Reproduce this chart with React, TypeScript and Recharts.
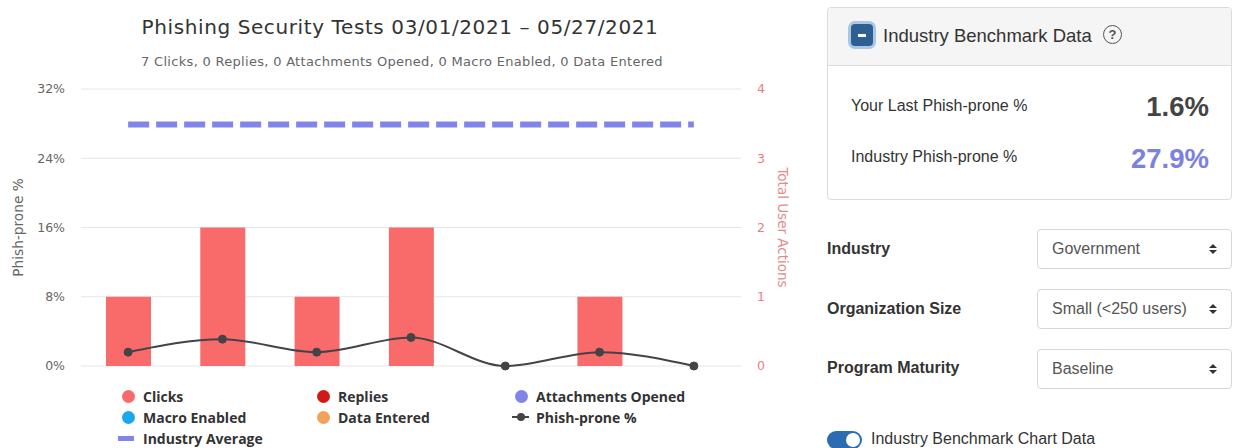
import React from "react";
import {
  ComposedChart,
  Bar,
  Line,
  XAxis,
  YAxis,
  CartesianGrid,
  Legend,
} from "recharts";

// Campaign slots in the reporting window
const categories = ["Test 1", "Test 2", "Test 3", "Test 4", "Test 5", "Test 6", "Test 7"];

// User actions per campaign (right axis)
const clicks = [1, 2, 1, 2, 0, 1, 0];
const replies = [0, 0, 0, 0, 0, 0, 0];
const attachmentsOpened = [0, 0, 0, 0, 0, 0, 0];
const macroEnabled = [0, 0, 0, 0, 0, 0, 0];
const dataEntered = [0, 0, 0, 0, 0, 0, 0];

// Phish-prone percentage per campaign (left axis)
const phishProne = [1.6, 3.1, 1.6, 3.3, 0, 1.6, 0];
// Industry benchmark percentage
const industryAverage = [27.9, 27.9, 27.9, 27.9, 27.9, 27.9, 27.9];

const leftTicks = [0, 8, 16, 24, 32];
const rightTicks = [0, 1, 2, 3, 4];

const legendOrder = [
  "Clicks",
  "Replies",
  "Attachments Opened",
  "Macro Enabled",
  "Data Entered",
  "Phish-prone %",
  "Industry Average",
];

const data = categories.map((name, i) => ({
  name,
  clicks: clicks[i],
  replies: replies[i],
  attachments: attachmentsOpened[i],
  macro: macroEnabled[i],
  entered: dataEntered[i],
  phish: phishProne[i],
  industry: industryAverage[i],
}));

const CHART_FONT = "'DejaVu Sans', sans-serif";
const UI_FONT = "'Liberation Sans', Arial, sans-serif";

function LegendSymbol({ type, color }: { type: string; color: string }) {
  if (type === "line") {
    return (
      <span style={{ position: "relative", display: "inline-block", width: 24, height: 14 }}>
        <span style={{ position: "absolute", left: 0, top: 6, width: 17, height: 2, background: color }} />
        <span
          style={{
            position: "absolute",
            left: 4.5,
            top: 3,
            width: 8,
            height: 8,
            borderRadius: 4,
            background: color,
          }}
        />
      </span>
    );
  }
  if (type === "rect") {
    return (
      <span style={{ position: "relative", display: "inline-block", width: 24, height: 14 }}>
        <span style={{ position: "absolute", left: -1, top: 5, width: 16, height: 5, background: color }} />
      </span>
    );
  }
  return (
    <span style={{ position: "relative", display: "inline-block", width: 24, height: 14 }}>
      <span
        style={{
          position: "absolute",
          left: 2.5,
          top: 0.5,
          width: 13,
          height: 13,
          borderRadius: 7,
          background: color,
        }}
      />
    </span>
  );
}

function LegendContent(props: any) {
  const payload: any[] = props.payload || [];
  const items = legendOrder
    .map((n) => payload.find((p) => p.value === n))
    .filter(Boolean);
  return (
    <div
      style={{
        width: 810,
        height: 82,
        boxSizing: "border-box",
        paddingTop: 19.5,
        paddingLeft: 119,
        display: "grid",
        gridTemplateColumns: "195px 198px 240px",
        gridAutoRows: "21px",
        fontFamily: "'Open Sans', sans-serif",
        fontWeight: 700,
        fontSize: 14,
        color: "#333",
        textAlign: "left",
      }}
    >
      {items.map((item: any) => (
        <div key={item.value} style={{ display: "flex", alignItems: "center", whiteSpace: "nowrap" }}>
          <LegendSymbol type={item.type} color={item.color} />
          <span>{item.value}</span>
        </div>
      ))}
    </div>
  );
}

function SelectBox({ top, value }: { top: number; value: string }) {
  return (
    <div
      style={{
        position: "absolute",
        left: 1037,
        top,
        width: 195,
        height: 40,
        boxSizing: "border-box",
        border: "1px solid #d6d6d6",
        borderRadius: 4,
        background: "#fff",
        fontSize: 16,
        color: "#555",
        lineHeight: "38px",
        paddingLeft: 14,
      }}
    >
      {value}
      <span style={{ position: "absolute", right: 14, top: 14, width: 8, height: 11 }}>
        <span
          style={{
            position: "absolute",
            left: 0,
            top: 0,
            width: 0,
            height: 0,
            borderLeft: "4px solid transparent",
            borderRight: "4px solid transparent",
            borderBottom: "4px solid #333",
          }}
        />
        <span
          style={{
            position: "absolute",
            left: 0,
            top: 6,
            width: 0,
            height: 0,
            borderLeft: "4px solid transparent",
            borderRight: "4px solid transparent",
            borderTop: "4px solid #333",
          }}
        />
      </span>
    </div>
  );
}

function FieldLabel({ top, text }: { top: number; text: string }) {
  return (
    <div
      style={{
        position: "absolute",
        left: 827,
        top,
        height: 20,
        lineHeight: "20px",
        fontSize: 16,
        fontWeight: 700,
        color: "#333",
        whiteSpace: "nowrap",
      }}
    >
      {text}
    </div>
  );
}

export default function App() {
  return (
    <div
      style={{
        position: "absolute",
        left: 0,
        top: 0,
        width: 1233,
        height: 448,
        overflow: "hidden",
        background: "#fff",
        fontFamily: UI_FONT,
      }}
    >
      {/* Chart heading */}
      <div
        style={{
          position: "absolute",
          left: 0,
          top: 15,
          width: 800,
          textAlign: "center",
          fontFamily: CHART_FONT,
          fontSize: 20,
          letterSpacing: 0.6,
          lineHeight: "24px",
          color: "#333",
          whiteSpace: "nowrap",
        }}
      >
        Phishing Security Tests 03/01/2021 – 05/27/2021
      </div>
      <div
        style={{
          position: "absolute",
          left: 0,
          top: 54,
          width: 804,
          textAlign: "center",
          fontFamily: CHART_FONT,
          fontSize: 13,
          letterSpacing: 0.3,
          lineHeight: "15px",
          color: "#666",
          whiteSpace: "nowrap",
        }}
      >
        7 Clicks, 0 Replies, 0 Attachments Opened, 0 Macro Enabled, 0 Data Entered
      </div>

      <div style={{ position: "absolute", left: 0, top: 0 }}>
        <ComposedChart
          width={810}
          height={448}
          data={data}
          margin={{ top: 89, right: 0, bottom: 0, left: 0 }}
          barSize={45}
        >
          <CartesianGrid yAxisId="left" vertical={false} stroke="#e6e6e6" />
          <XAxis
            dataKey="name"
            height={0}
            tick={false}
            tickLine={false}
            axisLine={{ stroke: "#d3d3dc" }}
          />
          <YAxis
            yAxisId="left"
            orientation="left"
            width={81}
            domain={[0, 32]}
            ticks={leftTicks}
            tickFormatter={(v: number) => `${v}%`}
            axisLine={false}
            tickLine={false}
            tickSize={0}
            tickMargin={16}
            tick={{ fill: "#666", fontSize: 12.5, fontFamily: CHART_FONT }}
            label={{
              value: "Phish-prone %",
              angle: -90,
              position: "insideLeft",
              offset: 18,
              fill: "#666",
              fontSize: 13.7,
              fontFamily: CHART_FONT,
              style: { textAnchor: "middle" },
            }}
          />
          <YAxis
            yAxisId="right"
            orientation="right"
            width={69}
            domain={[0, 4]}
            ticks={rightTicks}
            axisLine={false}
            tickLine={false}
            tickSize={0}
            tickMargin={16}
            tick={{ fill: "#e67f7f", fontSize: 12.5, fontFamily: CHART_FONT }}
            label={{
              value: "Total User Actions",
              angle: 90,
              position: "insideRight",
              offset: 27,
              fill: "#e48a8a",
              fontSize: 13.5,
              fontFamily: CHART_FONT,
              style: { textAnchor: "middle" },
            }}
          />
          <Bar yAxisId="right" dataKey="clicks" name="Clicks" stackId="actions" fill="#f96b6b" legendType="circle" isAnimationActive={false} />
          <Bar yAxisId="right" dataKey="replies" name="Replies" stackId="actions" fill="#d01a1a" legendType="circle" isAnimationActive={false} />
          <Bar yAxisId="right" dataKey="attachments" name="Attachments Opened" stackId="actions" fill="#8085e9" legendType="circle" isAnimationActive={false} />
          <Bar yAxisId="right" dataKey="macro" name="Macro Enabled" stackId="actions" fill="#1aa7ee" legendType="circle" isAnimationActive={false} />
          <Bar yAxisId="right" dataKey="entered" name="Data Entered" stackId="actions" fill="#f2a25a" legendType="circle" isAnimationActive={false} />
          <Line
            yAxisId="left"
            type="linear"
            dataKey="industry"
            name="Industry Average"
            stroke="#8085e9"
            strokeWidth={6}
            strokeDasharray="21 7"
            dot={false}
            activeDot={false}
            legendType="rect"
            isAnimationActive={false}
          />
          <Line
            yAxisId="left"
            type="monotone"
            dataKey="phish"
            name="Phish-prone %"
            stroke="#434348"
            strokeWidth={2}
            dot={{ r: 4, fill: "#434348", stroke: "#434348", strokeWidth: 1 }}
            activeDot={false}
            legendType="line"
            isAnimationActive={false}
          />
          <Legend
            verticalAlign="bottom"
            align="left"
            width={810}
            wrapperStyle={{ left: 0 }}
            content={<LegendContent />}
          />
        </ComposedChart>
      </div>

      {/* Benchmark card */}
      <div
        style={{
          position: "absolute",
          left: 827,
          top: 7,
          width: 405,
          height: 193,
          boxSizing: "border-box",
          border: "1px solid #dcdcdc",
          borderRadius: 4,
          background: "#fff",
          overflow: "hidden",
        }}
      >
        <div
          style={{
            position: "absolute",
            left: 0,
            top: 0,
            right: 0,
            height: 57,
            background: "#f5f5f5",
            borderBottom: "1px solid #dcdcdc",
          }}
        >
          <div
            style={{
              position: "absolute",
              left: 23,
              top: 16,
              width: 22,
              height: 22,
              borderRadius: 4,
              background: "#2d5f93",
              boxShadow: "0 0 0 3px rgba(110,160,215,0.55)",
            }}
          >
            <div style={{ position: "absolute", left: 7, top: 9.5, width: 8, height: 3, background: "#fff" }} />
          </div>
          <div
            style={{
              position: "absolute",
              left: 55,
              top: 16,
              height: 24,
              lineHeight: "24px",
              fontSize: 18.5,
              color: "#333",
              whiteSpace: "nowrap",
            }}
          >
            Industry Benchmark Data
          </div>
          <div
            style={{
              position: "absolute",
              left: 275,
              top: 17,
              width: 17,
              height: 17,
              borderRadius: 10,
              border: "1.5px solid #555",
              textAlign: "center",
              lineHeight: "17px",
              fontSize: 13,
              fontWeight: 700,
              color: "#555",
            }}
          >
            ?
          </div>
        </div>
        <div
          style={{
            position: "absolute",
            left: 23,
            top: 88,
            height: 20,
            lineHeight: "20px",
            fontSize: 16,
            color: "#333",
            whiteSpace: "nowrap",
          }}
        >
          Your Last Phish-prone %
        </div>
        <div
          style={{
            position: "absolute",
            right: 22,
            top: 83,
            height: 32,
            lineHeight: "32px",
            fontSize: 27.5,
            fontWeight: 700,
            color: "#444",
          }}
        >
          1.6%
        </div>
        <div
          style={{
            position: "absolute",
            left: 23,
            top: 139,
            height: 20,
            lineHeight: "20px",
            fontSize: 16,
            color: "#333",
            whiteSpace: "nowrap",
          }}
        >
          Industry Phish-prone %
        </div>
        <div
          style={{
            position: "absolute",
            right: 22,
            top: 135,
            height: 32,
            lineHeight: "32px",
            fontSize: 27.5,
            fontWeight: 700,
            color: "#7b82de",
          }}
        >
          27.9%
        </div>
      </div>

      <FieldLabel top={239} text="Industry" />
      <SelectBox top={229} value="Government" />
      <FieldLabel top={299} text="Organization Size" />
      <SelectBox top={289} value="Small (<250 users)" />
      <FieldLabel top={358} text="Program Maturity" />
      <SelectBox top={349} value="Baseline" />

      {/* Chart benchmark toggle */}
      <div
        style={{
          position: "absolute",
          left: 827,
          top: 431,
          width: 35,
          height: 18,
          borderRadius: 9,
          background: "#2c6db1",
        }}
      >
        <div
          style={{
            position: "absolute",
            right: 2,
            top: 2,
            width: 14,
            height: 14,
            borderRadius: 7,
            background: "#fff",
          }}
        />
      </div>
      <div
        style={{
          position: "absolute",
          left: 871,
          top: 429,
          height: 20,
          lineHeight: "20px",
          fontSize: 16,
          color: "#333",
          whiteSpace: "nowrap",
        }}
      >
        Industry Benchmark Chart Data
      </div>
    </div>
  );
}
